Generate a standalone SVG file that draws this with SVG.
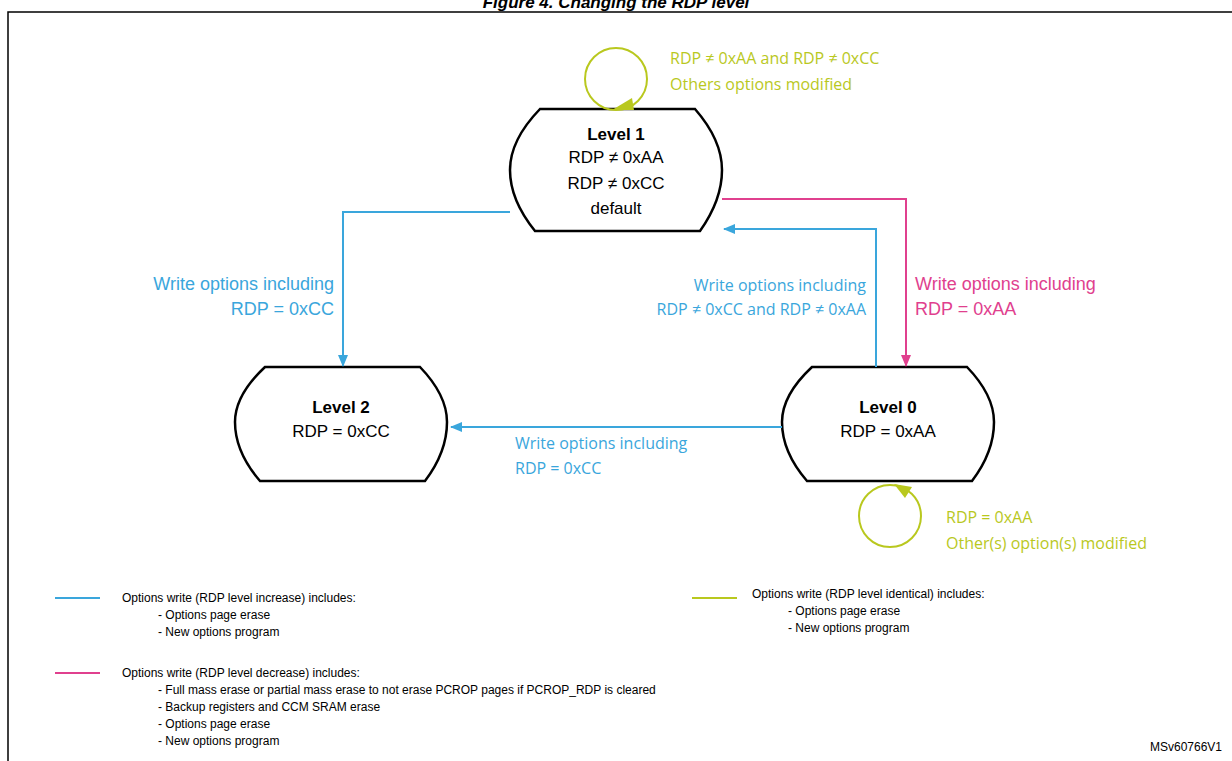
<svg xmlns="http://www.w3.org/2000/svg" width="1232" height="761" viewBox="0 0 1232 761">
<style>
.nb{fill:#fff;stroke:#000;stroke-width:2.5}
.t{font-family:"Liberation Sans",Arial,sans-serif;font-size:17px;text-anchor:middle}
.b{font-weight:bold}
.lb{font-family:"Open Sans","Liberation Sans",sans-serif;font-size:16px}
.lg{font-family:"Liberation Sans",Arial,sans-serif;font-size:12px;fill:#000}
.blue{stroke:#3aa6dc;fill:none;stroke-width:2}
.pink{stroke:#e0408e;fill:none;stroke-width:2}
.green{stroke:#b9c81e;fill:none;stroke-width:2}
.cb{fill:#3aa6dc}.cp{fill:#e0408e}.cg{fill:#b9c81e}
</style>
<defs>
<marker id="ab" markerWidth="12" markerHeight="10" refX="11" refY="5" orient="auto" markerUnits="userSpaceOnUse"><path d="M0,0L12,5L0,10z" fill="#3aa6dc"/></marker>
<marker id="ap" markerWidth="12" markerHeight="10" refX="11" refY="5" orient="auto" markerUnits="userSpaceOnUse"><path d="M0,0L12,5L0,10z" fill="#e0408e"/></marker>
</defs>
<rect width="1232" height="761" fill="#fff"/>
<text x="616" y="8" class="t b" style="font-style:italic;font-size:17px">Figure 4. Changing the RDP level</text>
<rect x="8" y="12" width="1230" height="760" fill="none" stroke="#000" stroke-width="1.5"/>
<g id="level1">
<path class="nb" d="M540,109H695Q722,140 722,170Q722,200 700,231H535Q510,200 510,170Q510,140 540,109Z"/>
<text x="616" y="140" class="t b">Level 1</text>
<text x="616" y="163" class="t">RDP ≠ 0xAA</text>
<text x="616" y="189" class="t">RDP ≠ 0xCC</text>
<text x="616" y="214" class="t">default</text>
</g>
<g id="level2">
<path class="nb" d="M265,367H420Q447,395 447,422Q447,452 425,481H260Q235,452 235,422Q235,395 265,367Z"/>
<text x="341" y="413" class="t b">Level 2</text>
<text x="341" y="437" class="t">RDP = 0xCC</text>
</g>
<g id="level0">
<path class="nb" d="M812,367H967Q994,395 994,422Q994,452 972,481H807Q782,452 782,422Q782,395 812,367Z"/>
<text x="888" y="413" class="t b">Level 0</text>
<text x="888" y="437" class="t">RDP = 0xAA</text>
</g>
<g id="connectors">
<path class="blue" d="M510,212H343V366" marker-end="url(#ab)"/>
<path class="blue" d="M876,367V229H724" marker-end="url(#ab)"/>
<path class="pink" d="M722,199H906V366" marker-end="url(#ap)"/>
<path class="blue" d="M782,427H451" marker-end="url(#ab)"/>
<circle class="green" cx="616" cy="79" r="31"/>
<path class="cg" d="M612,110L632,98L634,110z"/>
<circle class="green" cx="890" cy="516" r="31"/>
<path class="cg" d="M894,484L912,487L905,498z"/>
</g>
<g id="labels">
<text x="670" y="64" class="lb cg">RDP ≠ 0xAA and RDP ≠ 0xCC</text>
<text x="670" y="90" class="lb cg">Others options modified</text>
<text x="334" y="290" class="t cb" style="text-anchor:end;font-size:18px">Write options including</text>
<text x="334" y="315" class="t cb" style="text-anchor:end;font-size:18px">RDP = 0xCC</text>
<text x="866" y="291" class="lb cb" text-anchor="end">Write options including</text>
<text x="866" y="315" class="lb cb" text-anchor="end">RDP ≠ 0xCC and RDP ≠ 0xAA</text>
<text x="915" y="290" class="t cp" style="text-anchor:start;font-size:18px">Write options including</text>
<text x="915" y="315" class="t cp" style="text-anchor:start;font-size:18px">RDP = 0xAA</text>
<text x="515" y="449" class="lb cb">Write options including</text>
<text x="515" y="474" class="lb cb">RDP = 0xCC</text>
<text x="946" y="523" class="lb cg">RDP = 0xAA</text>
<text x="946" y="549" class="lb cg">Other(s) option(s) modified</text>
</g>
<g id="legend">
<line class="blue" x1="55" y1="598" x2="100" y2="598"/>
<text x="122" y="602" class="lg">Options write (RDP level increase) includes:</text>
<text x="158" y="619" class="lg">- Options page erase</text>
<text x="158" y="636" class="lg">- New options program</text>
<line class="green" x1="692" y1="598" x2="737" y2="598"/>
<text x="752" y="598" class="lg">Options write (RDP level identical) includes:</text>
<text x="788" y="615" class="lg">- Options page erase</text>
<text x="788" y="632" class="lg">- New options program</text>
<line class="pink" x1="55" y1="673" x2="100" y2="673"/>
<text x="122" y="677" class="lg">Options write (RDP level decrease) includes:</text>
<text x="158" y="694" class="lg">- Full mass erase or partial mass erase to not erase PCROP pages if PCROP_RDP is cleared</text>
<text x="158" y="711" class="lg">- Backup registers and CCM SRAM erase</text>
<text x="158" y="728" class="lg">- Options page erase</text>
<text x="158" y="745" class="lg">- New options program</text>
<text x="1150" y="751" class="lg">MSv60766V1</text>
</g>
</svg>
